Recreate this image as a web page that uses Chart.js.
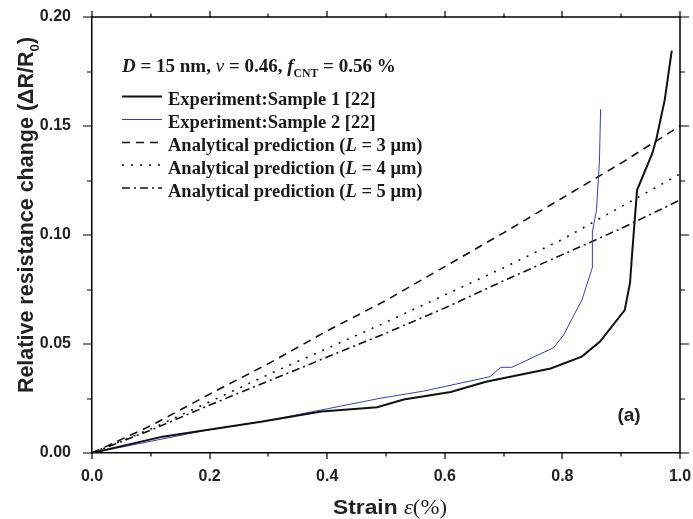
<!DOCTYPE html>
<html>
<head>
<meta charset="utf-8">
<script src="https://cdn.jsdelivr.net/npm/chart.js@4/dist/chart.umd.min.js"></script>
<style>
html,body{margin:0;padding:0;background:#fff;}
#wrap{width:693px;height:519px;position:relative;}
</style>
</head>
<body>
<div id="wrap"><canvas id="c" width="693" height="519"></canvas></div>
<script>
// ---- data (strain %, relative resistance change) ----
const sample1Strain = [0, 0.12, 0.29, 0.39, 0.485, 0.53, 0.61, 0.67, 0.78, 0.833, 0.864, 0.906, 0.915, 0.919, 0.927, 0.953, 0.96, 0.974, 0.986];
const sample1Value  = [0, 0.0075, 0.0144, 0.019, 0.021, 0.0245, 0.028, 0.0327, 0.0388, 0.0442, 0.0511, 0.0656, 0.078, 0.093, 0.1206, 0.1375, 0.1443, 0.162, 0.1846];

const sample2Strain = [0, 0.195, 0.29, 0.49, 0.564, 0.677, 0.695, 0.714, 0.785, 0.802, 0.821, 0.833, 0.852, 0.851, 0.858, 0.863, 0.865];
const sample2Value  = [0, 0.0105, 0.0144, 0.0251, 0.0284, 0.035, 0.0393, 0.0393, 0.0483, 0.0541, 0.064, 0.070, 0.086, 0.1015, 0.1115, 0.134, 0.1577];

const predStrain = [0, 0.1, 0.2, 0.3, 0.4, 0.5, 0.6, 0.7, 0.8, 0.9, 1.0];
const predL3 = [0, 0.0125, 0.027, 0.041, 0.056, 0.070, 0.0855, 0.101, 0.117, 0.133, 0.150];
const predL4 = [0, 0.011, 0.0235, 0.036, 0.048, 0.060, 0.0725, 0.085, 0.098, 0.113, 0.128];
const predL5 = [0, 0.0105, 0.022, 0.033, 0.044, 0.055, 0.0665, 0.079, 0.091, 0.103, 0.116];

const xTickLabels = ['0.0', '0.2', '0.4', '0.6', '0.8', '1.0'];
const yTickLabels = ['0.00', '0.05', '0.10', '0.15', '0.20'];

const seriesNames = ['Experiment:Sample 1 [22]', 'Experiment:Sample 2 [22]',
  'Analytical prediction (L = 3 μm)', 'Analytical prediction (L = 4 μm)', 'Analytical prediction (L = 5 μm)'];

function pts(xs, ys){ return xs.map((x,i)=>({x:x, y:ys[i]})); }

const SANS = '"Liberation Sans", Arial, sans-serif';
const SERIF = '"Liberation Serif", "Times New Roman", serif';

function fmtX(v){
  const r = Math.round(v*10);
  if (r % 2 !== 0) return '';
  const s = (r/10).toFixed(1);
  return xTickLabels.includes(s) ? s : '';
}
function fmtY(v){
  const r = Math.round(v*1000);
  if (r % 50 !== 0) return '';
  const s = (r/1000).toFixed(2);
  return yTickLabels.includes(s) ? s : '';
}

function setFont(ctx, s, size){
  const sz = s.sub ? size*0.62 : size;
  ctx.font = (s.i ? 'italic ' : '') + (s.b===false ? '' : 'bold ') + sz + 'px ' + (s.f || SERIF);
}
function drawRich(ctx, x, y, segs, size){
  let cx = x;
  segs.forEach(s=>{
    setFont(ctx, s, size);
    ctx.fillText(s.t, cx, y + (s.sub ? size*0.28 : 0));
    cx += ctx.measureText(s.t).width;
  });
  return cx;
}
function richWidth(ctx, segs, size){
  let w = 0;
  segs.forEach(s=>{ setFont(ctx, s, size); w += ctx.measureText(s.t).width; });
  return w;
}

const decor = {
  id: 'decor',
  afterDraw(chart){
    const ctx = chart.ctx;
    const xs = chart.scales.x, ys = chart.scales.y;
    const a = chart.chartArea;
    ctx.save();
    ctx.strokeStyle = '#000';
    // frame top/right
    ctx.lineWidth = 1.5;
    ctx.beginPath();
    ctx.moveTo(a.left, a.top); ctx.lineTo(a.right, a.top); ctx.lineTo(a.right, a.bottom);
    ctx.stroke();
    // ticks on all four sides
    ctx.lineWidth = 1.2;
    ctx.beginPath();
    xs.ticks.forEach(t=>{
      const major = fmtX(t.value) !== '';
      const L = major ? 6 : 3.5;
      const px = Math.round(xs.getPixelForValue(t.value));
      ctx.moveTo(px, a.bottom); ctx.lineTo(px, a.bottom + L);
      ctx.moveTo(px, a.top); ctx.lineTo(px, a.top - L);
    });
    ys.ticks.forEach(t=>{
      const major = fmtY(t.value) !== '';
      const L = major ? 9 : 5;
      const py = Math.round(ys.getPixelForValue(t.value));
      ctx.moveTo(a.left, py); ctx.lineTo(a.left - L, py);
      ctx.moveTo(a.right, py); ctx.lineTo(a.right + L, py);
    });
    ctx.stroke();

    ctx.fillStyle = '#1a1a1a';
    ctx.textBaseline = 'alphabetic';
    ctx.textAlign = 'left';
    // header
    drawRich(ctx, 122, 71.5, [
      {t:'D', i:true}, {t:' = 15 nm, '}, {t:'ν', i:true, b:false}, {t:' = 0.46, '}, {t:'f', i:true}, {t:'CNT', sub:true}, {t:' = 0.56 %'}
    ], 19);
    // legend rows
    const fs = 18.5;
    const rowsY = [105, 128, 151, 173.5, 196.5];
    const styles = chart.data.datasets;
    const labelSegs = [
      [{t:seriesNames[0]}],
      [{t:seriesNames[1]}],
      [{t:'Analytical prediction ('}, {t:'L', i:true}, {t:' = 3 μm)'}],
      [{t:'Analytical prediction ('}, {t:'L', i:true}, {t:' = 4 μm)'}],
      [{t:'Analytical prediction ('}, {t:'L', i:true}, {t:' = 5 μm)'}]
    ];
    rowsY.forEach((ry, i)=>{
      const ds = styles[i];
      ctx.save();
      ctx.strokeStyle = ds.borderColor;
      ctx.lineWidth = ds.borderWidth;
      ctx.setLineDash(ds.borderDash || []);
      ctx.beginPath();
      ctx.moveTo(122, ry - 8.5); ctx.lineTo(162, ry - 8.5);
      ctx.stroke();
      ctx.restore();
      drawRich(ctx, 168, ry, labelSegs[i], fs);
    });

    // (a)
    ctx.fillStyle = '#222';
    ctx.font = 'bold 19px ' + SANS;
    ctx.textAlign = 'center';
    ctx.fillText('(a)', 629, 421);

    // x title (horizontally stretched like the reference)
    ctx.textAlign = 'left';
    const xt = [{t:'Strain ', f:SANS}, {t:'ε', i:true, b:false, f:SERIF}, {t:'(%)', b:false, f:SERIF}];
    const xsz = 20;
    const xtw = richWidth(ctx, xt, xsz);
    const sx = 114 / xtw;
    ctx.save();
    ctx.translate(390 - 57, 514);
    ctx.scale(sx, 1);
    drawRich(ctx, 0, 0, xt, xsz);
    ctx.restore();

    // y title
    ctx.save();
    ctx.translate(33, 215);
    ctx.rotate(-Math.PI/2);
    const yt = [{t:'Relative resistance change (ΔR/R', f:SANS}, {t:'0', sub:true, f:SANS}, {t:')', f:SANS}];
    const ytw = richWidth(ctx, yt, 21.5);
    drawRich(ctx, -ytw/2, 0, yt, 21.5);
    ctx.restore();

    ctx.restore();
  }
};

new Chart(document.getElementById('c'), {
  type: 'scatter',
  data: {
    datasets: [
      {label: seriesNames[0], data: pts(sample1Strain, sample1Value), showLine: true, borderColor: '#111', borderWidth: 2, pointRadius: 0},
      {label: seriesNames[1], data: pts(sample2Strain, sample2Value), showLine: true, borderColor: '#3b3fa6', borderWidth: 1, pointRadius: 0},
      {label: seriesNames[2], data: pts(predStrain, predL3), showLine: true, borderColor: '#111', borderWidth: 1.6, borderDash: [8, 6], pointRadius: 0},
      {label: seriesNames[3], data: pts(predStrain, predL4), showLine: true, borderColor: '#111', borderWidth: 1.6, borderDash: [2, 7], pointRadius: 0},
      {label: seriesNames[4], data: pts(predStrain, predL5), showLine: true, borderColor: '#111', borderWidth: 1.6, borderDash: [8, 4, 2, 4], pointRadius: 0}
    ]
  },
  options: {
    responsive: false,
    animation: false,
    layout: {padding: {left: 0, top: 17, right: 13, bottom: 0}},
    plugins: {legend: {display: false}, tooltip: {enabled: false}},
    scales: {
      x: {
        type: 'linear', min: 0, max: 1,
        afterFit(s){ s.height = 66; s.paddingLeft = 0; s.paddingRight = 0; },
        border: {display: true, color: '#000', width: 1.5},
        grid: {display: false},
        ticks: {stepSize: 0.1, autoSkip: false, maxRotation: 0, padding: 6, color: '#222',
          font: {family: SANS, size: 16, weight: 'bold'}, callback: fmtX}
      },
      y: {
        type: 'linear', min: 0, max: 0.2,
        afterFit(s){ s.width = 92; s.paddingTop = 0; s.paddingBottom = 0; },
        border: {display: true, color: '#000', width: 1.5},
        grid: {display: false},
        ticks: {stepSize: 0.025, autoSkip: false, padding: 13, color: '#222',
          font: {family: SANS, size: 16, weight: 'bold'}, callback: fmtY}
      }
    }
  },
  plugins: [decor]
});
</script>
</body>
</html>
